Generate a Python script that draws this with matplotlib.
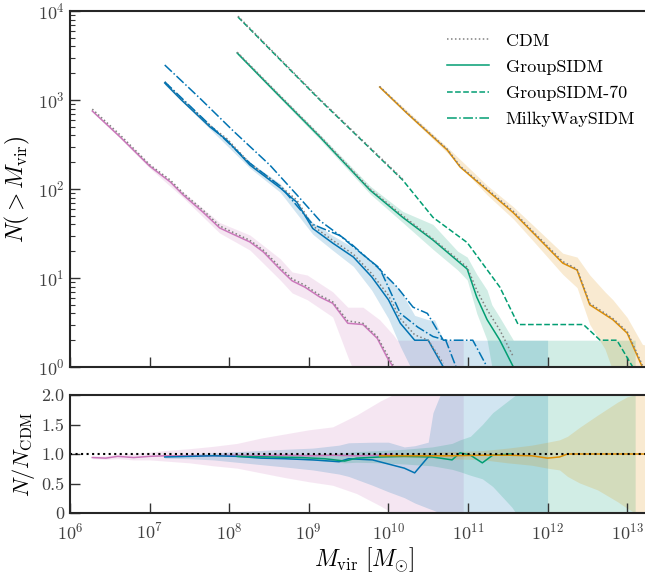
import numpy as np
import matplotlib
matplotlib.use('Agg')
import matplotlib.pyplot as plt
from matplotlib.ticker import LogLocator, NullLocator, FixedLocator, FixedFormatter

plt.rcParams['font.family'] = 'serif'
plt.rcParams['font.serif'] = ['cmr10']
plt.rcParams['mathtext.fontset'] = 'cm'
plt.rcParams['axes.formatter.use_mathtext'] = True

# ---- cumulative counts, log10(Mvir) grids ----
# low-mass host (pink)
pink_logm = [6.28, 6.63, 7.00, 7.26, 7.42, 7.67, 7.88, 8.05, 8.26, 8.43, 8.64, 8.79, 8.95, 9.14, 9.30, 9.49, 9.68, 9.86, 9.98, 10.06]
pink_n = [752, 384, 181, 120, 86, 55, 36.5, 31, 25.4, 19.6, 12.5, 9.3, 7.9, 6.1, 5.2, 3.1, 3.0, 2.1, 1.3, 1.0]
pink_cdm = [790, 405, 188, 126, 90, 58, 38.5, 32.5, 26.5, 20.5, 13.2, 9.8, 8.3, 6.4, 5.4, 3.3, 3.1, 2.2, 1.4, 1.05]
pink_band_logm = [6.28, 6.63, 7.00, 7.42, 7.88, 8.26, 8.64, 8.79, 8.98, 9.30, 9.49, 9.68, 9.89, 10.06, 10.11, 10.94]
pink_band_lo = [735, 372, 172, 80, 32, 20.6, 9.5, 6.8, 5.7, 3.65, 1.3, 0.5, 0, 0, 0, 0]
pink_band_hi = [770, 396, 192, 93, 42, 30.4, 16.5, 11.7, 10.8, 7.0, 4.7, 4.7, 3.4, 2.3, 2.0, 2.0]

# Milky Way host (blue)
blue_logm = [7.19, 7.40, 7.76, 7.97, 8.26, 8.64, 8.85, 9.05, 9.30, 9.56, 9.79, 10.00, 10.15, 10.33, 10.50, 10.69]
blue_n = [1553, 1000, 497, 355, 186, 103, 71, 36, 24.7, 17.2, 10.3, 5.7, 3.1, 2.0, 2.0, 1.0]
blue_cdm = [1600, 1040, 515, 368, 194, 108, 75, 38.5, 26.5, 18.5, 11.2, 6.4, 3.5, 2.3, 2.0, 1.1]
blue_mw2_logm = [7.19, 7.76, 8.26, 8.64, 9.05, 9.39, 9.73, 9.89, 10.15, 10.37, 10.56, 10.72, 10.85]
blue_mw2_n = [1600, 520, 195, 108, 40, 30, 16.8, 12.9, 4.0, 2.8, 2.2, 2.0, 1.0]
blue_mw_logm = [7.19, 7.63, 8.05, 8.51, 8.85, 9.14, 9.52, 9.86, 10.11, 10.31, 10.49, 10.69, 11.06, 11.24]
blue_mw_n = [2474, 1050, 450, 186, 86, 44, 24.7, 13.3, 7.9, 4.7, 4.0, 2.0, 2.0, 1.0]
blue_band_logm = [7.19, 7.76, 8.26, 8.64, 9.05, 9.30, 9.56, 9.79, 10.00, 10.15, 10.33, 10.50, 10.58, 10.69, 12.00]
blue_band_lo = [1490, 470, 172, 92, 31, 20.5, 13.5, 7.3, 3.5, 1.7, 0.8, 0, 0, 0, 0]
blue_band_hi = [1620, 525, 200, 115, 42, 30, 22, 15.1, 10, 7.3, 3.8, 3.4, 3.4, 2.0, 2.0]

# group host (green)
green_logm = [8.10, 8.60, 9.14, 9.45, 9.77, 10.18, 10.56, 10.99, 11.11, 11.24, 11.40, 11.57]
green_n = [3375, 1180, 384, 195, 97, 48, 26.7, 12.6, 6.1, 3.4, 2.0, 1.0]
green_cdm = [3450, 1210, 395, 200, 100, 50, 27.5, 13.2, 7.3, 4.4, 2.6, 1.3]
green70_logm = [8.11, 8.60, 9.14, 9.56, 10.18, 10.56, 10.99, 11.40, 11.63, 12.45, 12.66, 12.87, 13.07]
green70_n = [8570, 3080, 1000, 434, 126, 48, 25, 7.9, 3.0, 3.0, 2.0, 2.0, 1.0]
green70_cdm = [8750, 3140, 1020, 442, 129]
green_band_logm = [8.10, 9.14, 9.77, 10.18, 10.56, 10.87, 10.99, 11.11, 11.24, 11.30, 11.40, 11.57, 13.10]
green_band_lo = [3250, 360, 88, 42, 21, 12.3, 9.5, 4.0, 2.0, 1.0, 0, 0, 0]
green_band_hi = [3500, 410, 108, 56, 40, 20, 17.2, 11.0, 7.3, 5.0, 3.6, 2.0, 2.0]

# cluster host (orange)
orange_logm = [9.89, 10.23, 10.74, 10.90, 11.24, 11.57, 11.82, 12.19, 12.37, 12.53, 12.82, 13.00, 13.19]
orange_n = [1400, 714, 274, 177, 97, 54, 32, 14.7, 12.3, 5.0, 3.4, 2.4, 1.0]
orange_cdm = [1420, 725, 280, 181, 100, 56, 33, 15.3, 12.6, 5.2, 3.5, 2.5, 1.05]
orange_band_logm = [9.89, 10.74, 11.24, 11.57, 11.82, 12.19, 12.37, 12.53, 12.72, 12.82, 13.00, 13.19, 13.40]
orange_band_lo = [1350, 255, 86, 46, 26, 11, 7.8, 3.0, 1.6, 0.9, 0, 0, 0]
orange_band_hi = [1450, 295, 110, 63, 39, 19, 17.2, 10.8, 7.0, 5.7, 3.6, 1.8, 1.6]

# ---- ratio to CDM ----
pink_ratio_logm = [6.28, 6.45, 6.60, 6.80, 7.00, 7.20, 7.50, 7.80, 8.10, 8.40, 8.70, 9.00, 9.30, 9.60, 9.90, 10.05]
pink_ratio = [0.94, 0.93, 0.96, 0.94, 0.96, 0.97, 0.97, 0.97, 0.98, 0.97, 0.98, 0.97, 0.98, 0.97, 0.98, 1.0]
pink_rband_logm = [6.28, 6.45, 6.60, 6.80, 7.00, 7.20, 7.50, 7.80, 8.10, 8.40, 8.70, 9.00, 9.30, 9.60, 9.90, 10.05, 10.94]
pink_rband_lo = [0.92, 0.91, 0.92, 0.90, 0.90, 0.88, 0.85, 0.80, 0.76, 0.68, 0.60, 0.53, 0.47, 0.33, 0.12, 0.0, 0.0]
pink_rband_hi = [0.97, 0.97, 1.00, 1.01, 1.03, 1.06, 1.09, 1.13, 1.18, 1.27, 1.34, 1.41, 1.46, 1.66, 1.90, 2.0, 2.0]

blue_ratio_logm = [7.19, 7.50, 7.80, 8.10, 8.40, 8.70, 9.05, 9.38, 9.50, 9.80, 10.00, 10.20, 10.33, 10.50, 10.56]
blue_ratio = [0.95, 0.96, 0.97, 0.96, 0.93, 0.92, 0.90, 0.87, 0.92, 0.90, 0.83, 0.76, 0.68, 0.95, 0.98]
blue_rband_logm = [7.19, 7.50, 7.80, 8.10, 8.40, 8.70, 9.05, 9.38, 9.50, 9.80, 10.00, 10.20, 10.33, 10.50, 10.56, 10.65, 12.00]
blue_rband_lo = [0.93, 0.92, 0.90, 0.86, 0.82, 0.78, 0.73, 0.66, 0.62, 0.47, 0.36, 0.26, 0.17, 0.08, 0.05, 0.0, 0.0]
blue_rband_hi = [0.98, 1.00, 1.02, 1.04, 1.06, 1.08, 1.10, 1.15, 1.19, 1.20, 1.20, 1.12, 1.14, 1.20, 1.70, 2.0, 2.0]

green_ratio_logm = [8.10, 8.50, 8.90, 9.20, 9.45, 9.60, 9.90, 10.20, 10.55, 10.80, 10.90, 11.03, 11.18, 11.31, 11.55]
green_ratio = [0.96, 0.95, 0.94, 0.92, 0.88, 0.93, 0.95, 0.96, 0.95, 0.90, 1.02, 0.98, 0.85, 0.98, 1.0]
green_rband_logm = [8.10, 8.50, 8.90, 9.20, 9.45, 9.60, 9.90, 10.20, 10.55, 10.80, 10.90, 11.03, 11.18, 11.31, 11.55, 11.60, 13.10]
green_rband_lo = [0.95, 0.93, 0.91, 0.88, 0.85, 0.86, 0.85, 0.83, 0.80, 0.74, 0.70, 0.64, 0.58, 0.45, 0.10, 0.0, 0.0]
green_rband_hi = [0.98, 0.98, 1.00, 1.01, 1.02, 1.04, 1.06, 1.08, 1.12, 1.18, 1.24, 1.30, 1.50, 1.70, 1.95, 2.0, 2.0]

orange_ratio_logm = [9.89, 10.30, 10.80, 11.20, 11.50, 11.80, 12.00, 12.15, 12.25, 12.40, 13.40]
orange_ratio = [0.97, 0.97, 0.97, 0.98, 0.98, 0.97, 0.93, 0.95, 1.0, 1.0, 1.0]
orange_rband_logm = [9.89, 10.30, 10.80, 11.20, 11.50, 11.80, 12.00, 12.15, 12.25, 12.40, 12.63, 12.88, 13.00, 13.10, 13.40]
orange_rband_lo = [0.95, 0.94, 0.92, 0.90, 0.85, 0.81, 0.76, 0.73, 0.62, 0.51, 0.39, 0.19, 0.08, 0.0, 0.0]
orange_rband_hi = [1.00, 1.02, 1.04, 1.06, 1.10, 1.15, 1.20, 1.24, 1.30, 1.45, 1.66, 1.88, 1.97, 2.0, 2.0]

cols = {'pink': '#cc78bc', 'blue': '#0173b2', 'green': '#029e73', 'orange': '#de8f05'}
cdm_col = '0.5'
lw = 1.1
band_alpha = 0.18
cdm_ls = (0, (1, 1.6))


def m(logm):
    return 10 ** np.asarray(logm, dtype=float)


fig = plt.figure(figsize=(6.45, 5.78), dpi=100)
axw = 7.4 * 79.6 / 645
ax = fig.add_axes([70 / 645, 1 - 367 / 578, axw, 356 / 578])
axr = fig.add_axes([70 / 645, 1 - 513 / 578, axw, 118 / 578])

# top panel: bands
for name, bm, lo, hi in [('pink', pink_band_logm, pink_band_lo, pink_band_hi),
                         ('blue', blue_band_logm, blue_band_lo, blue_band_hi),
                         ('green', green_band_logm, green_band_lo, green_band_hi),
                         ('orange', orange_band_logm, orange_band_lo, orange_band_hi)]:
    ax.fill_between(m(bm), np.clip(lo, 0.1, None), hi, color=cols[name], alpha=band_alpha, lw=0)

# top panel: lines
ax.plot(m(pink_logm), pink_n, color=cols['pink'], lw=lw)
ax.plot(m(pink_logm), pink_cdm, color=cdm_col, lw=lw, ls=cdm_ls)
ax.plot(m(blue_logm), blue_n, color=cols['blue'], lw=lw)
ax.plot(m(blue_logm), blue_cdm, color=cdm_col, lw=lw, ls=cdm_ls)
ax.plot(m(blue_mw2_logm), blue_mw2_n, color=cols['blue'], lw=lw, ls='-.')
ax.plot(m(blue_mw_logm), blue_mw_n, color=cols['blue'], lw=lw, ls='-.')
ax.plot(m(green_logm), green_n, color=cols['green'], lw=lw)
ax.plot(m(green_logm), green_cdm, color=cdm_col, lw=lw, ls=cdm_ls)
ax.plot(m(green70_logm), green70_n, color=cols['green'], lw=lw, ls='--')
ax.plot(m(green70_logm[:len(green70_cdm)]), green70_cdm, color=cdm_col, lw=lw, ls=cdm_ls)
ax.plot(m(orange_logm), orange_n, color=cols['orange'], lw=lw)
ax.plot(m(orange_logm), orange_cdm, color=cdm_col, lw=lw, ls=cdm_ls)

# legend (line styles only)
leg_lines = [
    plt.Line2D([], [], color=cdm_col, lw=lw, ls=cdm_ls),
    plt.Line2D([], [], color=cols['green'], lw=lw, ls='-'),
    plt.Line2D([], [], color=cols['green'], lw=lw, ls='--'),
    plt.Line2D([], [], color=cols['green'], lw=lw, ls='-.'),
]
ax.legend(leg_lines, ['CDM', 'GroupSIDM', 'GroupSIDM-70', 'MilkyWaySIDM'],
          loc='upper left', bbox_to_anchor=(438 / 645, 1 - 24 / 578),
          bbox_transform=fig.transFigure, frameon=False, fontsize=13, borderpad=0,
          handlelength=2.35, handletextpad=0.9, labelspacing=0.58)

# bottom panel: ratio bands + lines
for name, bm, lo, hi in [('pink', pink_rband_logm, pink_rband_lo, pink_rband_hi),
                         ('blue', blue_rband_logm, blue_rband_lo, blue_rband_hi),
                         ('green', green_rband_logm, green_rband_lo, green_rband_hi),
                         ('orange', orange_rband_logm, orange_rband_lo, orange_rband_hi)]:
    axr.fill_between(m(bm), lo, hi, color=cols[name], alpha=band_alpha, lw=0)

axr.plot(m(pink_ratio_logm), pink_ratio, color=cols['pink'], lw=lw)
axr.plot(m(blue_ratio_logm), blue_ratio, color=cols['blue'], lw=lw)
axr.plot(m(green_ratio_logm), green_ratio, color=cols['green'], lw=lw)
axr.plot(m(orange_ratio_logm), orange_ratio, color=cols['orange'], lw=lw)
axr.axhline(1.0, color='k', ls=':', lw=1.5)

# axes styling
for a in (ax, axr):
    a.set_xscale('log')
    a.set_xlim(1e6, 10 ** 13.4)
    a.xaxis.set_major_locator(LogLocator(base=10, numticks=20))
    a.xaxis.set_minor_locator(NullLocator())
    a.tick_params(which='major', direction='in', length=7, width=1, color='0.2',
                  labelsize=13, labelcolor='0.25', pad=4)
    a.tick_params(which='minor', direction='in', length=3.5, width=0.8, color='0.2')
    a.spines['right'].set_visible(False)
    for s in ('left', 'top', 'bottom'):
        a.spines[s].set_linewidth(1.5)
        a.spines[s].set_color('0.15')

ax.set_yscale('log')
ax.set_ylim(1, 1e4)
ax.tick_params(labelbottom=False)
ax.set_ylabel(r'$N(>M_{\rm vir})$', fontsize=17, labelpad=4)

axr.set_ylim(0, 2)
axr.yaxis.set_major_locator(FixedLocator([0, 0.5, 1.0, 1.5, 2.0]))
axr.yaxis.set_major_formatter(FixedFormatter(['0', '0.5', '1.0', '1.5', '2.0']))
axr.tick_params(axis='x', pad=6)
axr.set_ylabel(r'$N/N_{\rm CDM}$', fontsize=16, labelpad=3)
axr.set_xlabel(r'$M_{\rm vir}\ [M_{\odot}]$', fontsize=17, labelpad=2)

fig.savefig('out.png', dpi=100)
